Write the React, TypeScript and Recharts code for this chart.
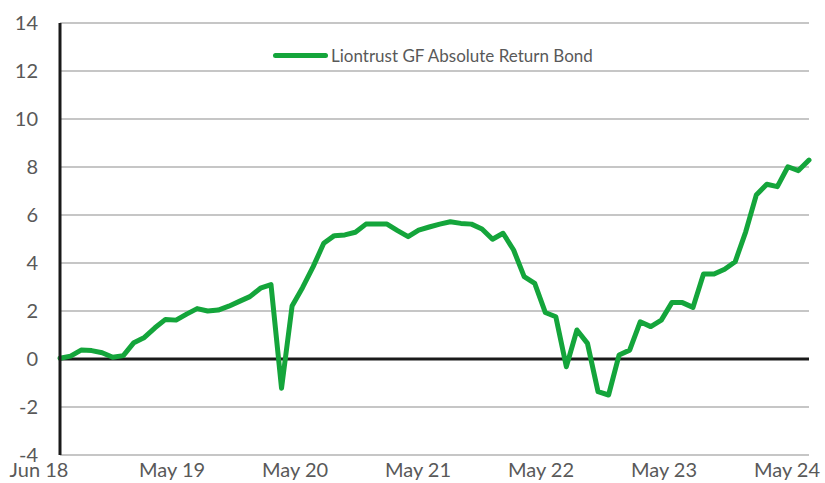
import React from 'react';
import { LineChart, Line, XAxis, YAxis, CartesianGrid, ReferenceLine } from 'recharts';

const months = [
  'Jun 18','Jul 18','Aug 18','Sep 18','Oct 18','Nov 18','Dec 18','Jan 19','Feb 19','Mar 19','Apr 19',
  'May 19','Jun 19','Jul 19','Aug 19','Sep 19','Oct 19','Nov 19','Dec 19','Jan 20','Feb 20','Mar 20','Apr 20',
  'May 20','Jun 20','Jul 20','Aug 20','Sep 20','Oct 20','Nov 20','Dec 20','Jan 21','Feb 21','Mar 21','Apr 21',
  'May 21','Jun 21','Jul 21','Aug 21','Sep 21','Oct 21','Nov 21','Dec 21','Jan 22','Feb 22','Mar 22','Apr 22',
  'May 22','Jun 22','Jul 22','Aug 22','Sep 22','Oct 22','Nov 22','Dec 22','Jan 23','Feb 23','Mar 23','Apr 23',
  'May 23','Jun 23','Jul 23','Aug 23','Sep 23','Oct 23','Nov 23','Dec 23','Jan 24','Feb 24','Mar 24','Apr 24',
  'May 24',
];

const fundValues = [
  0.03, 0.12, 0.37, 0.35, 0.26, 0.07, 0.14, 0.68, 0.9, 1.3, 1.65, 1.62,
  1.87, 2.1, 2.0, 2.04, 2.2, 2.4, 2.6, 2.95, 3.1, -1.22, 2.21, 2.98,
  3.85, 4.82, 5.14, 5.17, 5.28, 5.62, 5.62, 5.62, 5.35, 5.1, 5.37, 5.5,
  5.62, 5.72, 5.65, 5.62, 5.42, 4.99, 5.24, 4.54, 3.43, 3.15, 1.94, 1.76,
  -0.32, 1.21, 0.65, -1.36, -1.5, 0.17, 0.37, 1.55, 1.35, 1.62, 2.35, 2.35,
  2.15, 3.54, 3.54, 3.74, 4.05, 5.3, 6.83, 7.28, 7.18, 8.01, 7.85, 8.29,
];

const xTickLabels = ['Jun 18', 'May 19', 'May 20', 'May 21', 'May 22', 'May 23', 'May 24'];
const yTicks = [-4, -2, 0, 2, 4, 6, 8, 10, 12, 14];
const seriesName = 'Liontrust GF Absolute Return Bond';

const data = months.map((m, i) => ({ month: m, fund: fundValues[i] }));

const GREEN = '#14a53b';
const TEXT = '#595959';
const FONT = 'Lato, "Open Sans", sans-serif';

const XTick = (props: any) => {
  const { x, y, payload } = props;
  const idx = months.indexOf(payload.value);
  const dx = idx === 0 ? -21 : -4 - (idx - 11) * 0.3;
  return (
    <text x={x + dx} y={y} dy="0.71em" textAnchor="middle" fill={TEXT} fontSize={20} fontFamily={FONT}>
      {payload.value}
    </text>
  );
};

export default function App() {
  return (
    <div style={{ position: 'absolute', left: 0, top: 0, width: 825, height: 483, background: '#fff' }}>
      <LineChart width={825} height={483} data={data} margin={{ top: 23, right: 16, bottom: 0, left: 0 }}>
        <CartesianGrid vertical={false} stroke="#c6c6c6" strokeWidth={2} />
        <XAxis
          dataKey="month"
          ticks={xTickLabels}
          interval={0}
          axisLine={false}
          tickLine={false}
          tickSize={0}
          tickMargin={8}
          height={28}
          tick={<XTick />}
        />
        <YAxis
          domain={[-4, 14]}
          ticks={yTicks}
          interval={0}
          width={60}
          axisLine={{ stroke: '#1a1a1a', strokeWidth: 3 }}
          tickLine={false}
          tickSize={0}
          tickMargin={22}
          tick={{ fill: TEXT, fontSize: 20, fontFamily: FONT }}
        />
        <ReferenceLine y={0} stroke="#1a1a1a" strokeWidth={3} />
        <Line
          type="linear"
          dataKey="fund"
          name={seriesName}
          stroke={GREEN}
          strokeWidth={5}
          dot={false}
          strokeLinejoin="round"
          strokeLinecap="round"
          isAnimationActive={false}
        />
      </LineChart>
      <div
        style={{
          position: 'absolute', left: 273, top: 45, display: 'flex', alignItems: 'center',
          fontFamily: FONT, fontSize: 17, color: TEXT, whiteSpace: 'nowrap', background: '#fff', paddingRight: 2,
        }}
      >
        <span style={{ display: 'inline-block', width: 55, height: 5, borderRadius: 3, background: GREEN, marginRight: 3 }} />
        <span>{seriesName}</span>
      </div>
    </div>
  );
}
